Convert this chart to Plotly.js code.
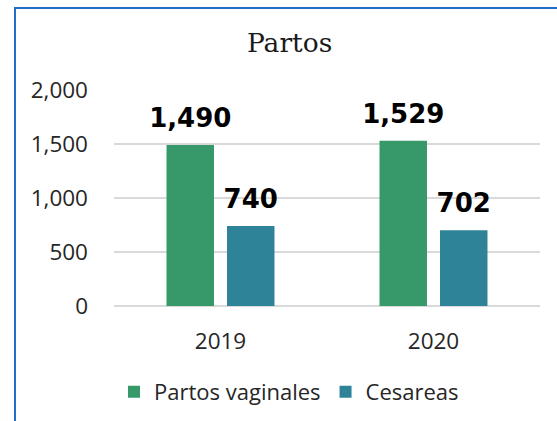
<!DOCTYPE html>
<html>
<head>
<meta charset="utf-8">
<script src="https://cdn.plot.ly/plotly-3.0.1.min.js"></script>
<style>
  html, body { margin: 0; padding: 0; background: #fff; }
  #wrap { position: relative; width: 557px; height: 421px; }
  #chart { position: absolute; left: 0; top: 0; width: 557px; height: 421px; }
  #frame { position: absolute; left: 14px; top: 7px; right: 0; bottom: 0;
           border-left: 2px solid #1f6fc5; border-top: 2px solid #1f6fc5;
           pointer-events: none; }
</style>
</head>
<body>
<div id="wrap">
  <div id="chart"></div>
  <div id="frame"></div>
</div>
<script>
const years = ['2019', '2020'];
const vaginales = [1490, 1529];
const cesareas = [740, 702];
const seriesNames = ['Partos vaginales', 'Cesareas'];
const chartTitle = 'Partos';

const labelTemplate = '<span style="font-size:26px"><b>%{y:,}</b></span><br>\u00a0';

const common = {
  type: 'bar',
  x: years,
  texttemplate: labelTemplate,
  textposition: 'outside',
  constraintext: 'none',
  cliponaxis: false,
  textfont: { family: 'DejaVu Sans', size: 10, color: '#000000' },
  hoverinfo: 'skip'
};

const data = [
  Object.assign({}, common, { name: seriesNames[0], y: vaginales, marker: { color: '#37996a' } }),
  Object.assign({}, common, { name: seriesNames[1], y: cesareas, marker: { color: '#2e8399' } })
];

const layout = {
  width: 557,
  height: 421,
  margin: { l: 114, r: 17, t: 90, b: 115 },
  paper_bgcolor: '#ffffff',
  plot_bgcolor: '#ffffff',
  barmode: 'group',
  bargap: 0.432,
  bargroupgap: 0.215,
  showlegend: true,
  title: {
    text: chartTitle,
    font: { family: 'DejaVu Serif', size: 26.5, color: '#1a1a1a' },
    x: 0.52, xref: 'container', xanchor: 'center',
    y: 0.898, yref: 'container', yanchor: 'middle'
  },
  xaxis: {
    type: 'category',
    showgrid: false,
    showline: false,
    zeroline: false,
    ticks: '',
    ticklabelstandoff: 19,
    tickfont: { family: 'Open Sans', size: 22.5, color: '#262626' }
  },
  yaxis: {
    range: [0, 2000],
    dtick: 500,
    tick0: 0,
    tickformat: ',d',
    showgrid: true,
    gridcolor: '#d9d9d9',
    gridwidth: 1.5,
    zeroline: true,
    zerolinecolor: '#d9d9d9',
    zerolinewidth: 1.5,
    showline: false,
    ticks: '',
    ticklabelstandoff: 25,
    tickfont: { family: 'Open Sans', size: 22.5, color: '#262626' }
  },
  legend: {
    orientation: 'h',
    x: 0.0, xanchor: 'left',
    y: 0.069, yref: 'container', yanchor: 'middle',
    font: { family: 'Open Sans', size: 22, color: '#262626' },
    itemwidth: 30,
    bgcolor: 'rgba(0,0,0,0)'
  }
};

Plotly.newPlot('chart', data, layout, { displayModeBar: false, staticPlot: true });
</script>
</body>
</html>
